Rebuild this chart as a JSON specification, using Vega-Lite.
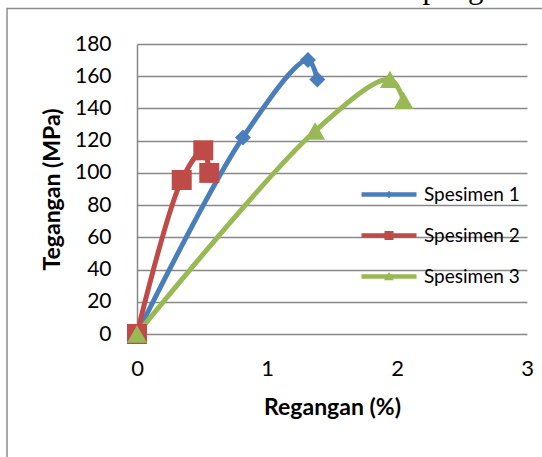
{
  "$schema": "https://vega.github.io/schema/vega-lite/v6.json",
  "width": 390,
  "height": 290,
  "autosize": {"type": "none"},
  "padding": {"left": 137, "top": 44, "right": 15, "bottom": 123},
  "background": "white",
  "title": {
    "text": "Dari hasil diatas maka didapat grafik",
    "font": "Liberation Serif",
    "fontSize": 31,
    "fontWeight": "normal",
    "color": "black",
    "anchor": "start",
    "frame": "group",
    "baseline": "alphabetic",
    "dx": -52,
    "dy": 21,
    "offset": 0
  },
  "config": {
    "font": "Lato",
    "view": {"stroke": null},
    "axis": {"labelColor": "black", "titleColor": "black", "labelFont": "Lato", "titleFont": "Lato", "labelOverlap": false, "labelFlush": false}
  },
  "data": {
    "values": [
      {"s": "Spesimen 1", "x": 0, "y": 0},
      {"s": "Spesimen 1", "x": 0.815, "y": 122},
      {"s": "Spesimen 1", "x": 1.315, "y": 170},
      {"s": "Spesimen 1", "x": 1.387, "y": 158},
      {"s": "Spesimen 2", "x": 0, "y": 0},
      {"s": "Spesimen 2", "x": 0.344, "y": 95.6},
      {"s": "Spesimen 2", "x": 0.51, "y": 114},
      {"s": "Spesimen 2", "x": 0.556, "y": 100},
      {"s": "Spesimen 3", "x": 0, "y": 0},
      {"s": "Spesimen 3", "x": 1.37, "y": 126},
      {"s": "Spesimen 3", "x": 1.946, "y": 158},
      {"s": "Spesimen 3", "x": 2.05, "y": 145}
    ]
  },
  "layer": [
    {
      "data": {"values": [{}]},
      "mark": {"type": "rect", "filled": false, "stroke": "#8c8c8c", "strokeWidth": 1.5, "clip": false},
      "encoding": {
        "x": {
          "datum": -1.0, "type": "quantitative",
          "scale": {"domain": [0, 3], "nice": false, "zero": false},
          "axis": {
            "title": "Regangan (%)", "values": [0, 1, 2, 3], "format": "d", "grid": false, "domain": false, "ticks": false,
            "labelOverlap": false, "labelFlush": false,
            "labelFontSize": 22, "labelPadding": 24, "titleFontSize": 23, "titleFontWeight": "bold", "titlePadding": 17
          }
        },
        "x2": {"datum": 4},
        "y": {
          "datum": 202, "type": "quantitative",
          "scale": {"domain": [0, 180], "nice": false, "zero": false},
          "axis": {
            "title": "Tegangan (MPa)", "tickCount": 10, "format": "d",
            "labelOverlap": false, "labelFlush": false, "labelBound": false,
            "grid": true, "gridColor": "#888888", "gridWidth": 1.5,
            "domain": true, "domainColor": "#888888", "domainWidth": 1.5, "ticks": false,
            "labelFontSize": 21, "labelPadding": 26, "titleFontSize": 23, "titleFontWeight": "bold", "titlePadding": 10
          }
        },
        "y2": {"datum": -100}
      }
    },
    {
      "mark": {"type": "line", "interpolate": "catmull-rom", "strokeWidth": 5},
      "encoding": {
        "x": {"field": "x", "type": "quantitative"},
        "y": {"field": "y", "type": "quantitative"},
        "color": {
          "field": "s", "type": "nominal",
          "scale": {"domain": ["Spesimen 1", "Spesimen 2", "Spesimen 3"], "range": ["#4A7EBB", "#BE4B48", "#98B954"]},
          "legend": {
            "orient": "none", "legendX": 265, "legendY": 141, "title": null,
            "labelFont": "Lato", "labelFontSize": 19, "labelColor": "black",
            "symbolSize": 100, "rowPadding": 21, "labelOffset": 3,
            "encode": {
              "symbols": {
                "update": {
                  "shape": {"signal": "datum.value === 'Spesimen 1' ? 'M-10,-0.45L1,-0.45L1,0.45L-10,0.45Z M-4.5,-0.75L-3.75,0L-4.5,0.75L-5.25,0Z' : datum.value === 'Spesimen 2' ? 'M-10,-0.45L1,-0.45L1,0.45L-10,0.45Z M-5.4,-0.9L-3.6,-0.9L-3.6,0.9L-5.4,0.9Z' : 'M-10,-0.45L1,-0.45L1,0.45L-10,0.45Z M-4.5,-0.9L-3.5,0.75L-5.5,0.75Z'"},
                  "fill": {"scale": "color", "field": "value"},
                  "stroke": {"value": "transparent"},
                  "strokeWidth": {"value": 0}
                }
              }
            }
          }
        }
      }
    },
    {
      "transform": [{"filter": "datum.s === 'Spesimen 1'"}],
      "mark": {"type": "point", "shape": "diamond", "size": 256, "filled": true, "opacity": 1},
      "encoding": {"x": {"field": "x", "type": "quantitative"}, "y": {"field": "y", "type": "quantitative"}, "color": {"field": "s", "type": "nominal"}}
    },
    {
      "transform": [{"filter": "datum.s === 'Spesimen 2'"}],
      "mark": {"type": "point", "shape": "square", "size": 400, "filled": true, "opacity": 1},
      "encoding": {"x": {"field": "x", "type": "quantitative"}, "y": {"field": "y", "type": "quantitative"}, "color": {"field": "s", "type": "nominal"}}
    },
    {
      "transform": [{"filter": "datum.s === 'Spesimen 3'"}],
      "mark": {"type": "point", "shape": "triangle-up", "size": 400, "filled": true, "opacity": 1},
      "encoding": {"x": {"field": "x", "type": "quantitative"}, "y": {"field": "y", "type": "quantitative"}, "color": {"field": "s", "type": "nominal"}}
    }
  ]
}
